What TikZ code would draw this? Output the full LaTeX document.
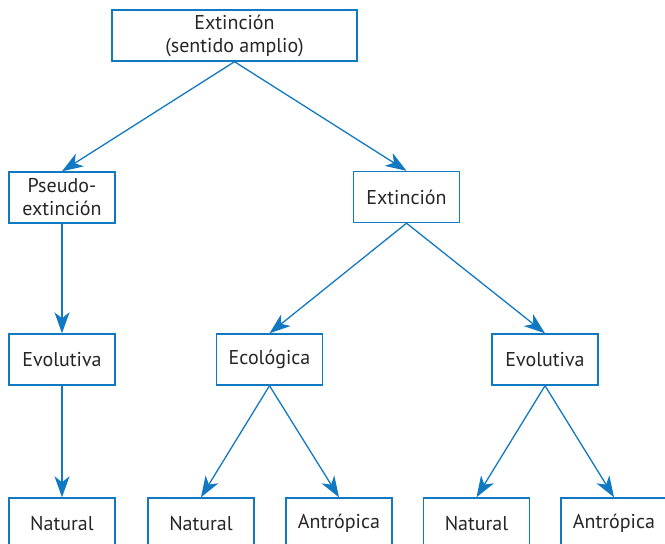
\documentclass[tikz,border=0pt]{standalone}
\usepackage{fontspec}
\setmainfont{PT Sans}
\usetikzlibrary{arrows.meta}
\definecolor{treeblue}{HTML}{1079C2}
\definecolor{treetext}{HTML}{262626}
\tikzset{
  BoxStyle/.style = { rectangle, draw = treeblue, line width = 1.4pt,
                      fill = white, text = treetext, align = center,
                      minimum width = 106pt, minimum height = 51pt,
                      inner sep = 0pt, font = \fontsize{20}{23}\selectfont },
  EdgeStyle/.style = { draw = treeblue, line width = 1.3pt,
                       -{Stealth[length=21pt, width=15pt, inset=6pt]} } }

\begin{document}
\begin{tikzpicture}[x=1pt, y=-1pt]
  \useasboundingbox (0,0) rectangle (665,544);
  \clip (0,0) rectangle (665,544);
  \node[BoxStyle, minimum width=245pt](top) at (234.5,35.5) {Extinción\\(sentido amplio)};
  \node[BoxStyle](pseudo) at (62,197.5) {Pseudo-\\extinción};
  \node[BoxStyle](ext) at (406.5,197) {Extinción};
  \node[BoxStyle](evoL) at (62,359.5) {Evolutiva};
  \node[BoxStyle](eco) at (269.5,359.5) {Ecológica};
  \node[BoxStyle](evoR) at (545,359.5) {Evolutiva};
  \node[BoxStyle](natA) at (62,523.5) {Natural};
  \node[BoxStyle](natB) at (201,523.5) {Natural};
  \node[BoxStyle](antA) at (339,523.5) {Antrópica};
  \node[BoxStyle](natC) at (476.5,523.5) {Natural};
  \node[BoxStyle](antB) at (614,523.5) {Antrópica};
  \draw[EdgeStyle] (top.south) -- (pseudo.north);
  \draw[EdgeStyle] (top.south) -- (ext.north);
  \draw[EdgeStyle] (pseudo.south) -- (evoL.north);
  \draw[EdgeStyle] (ext.south) -- (eco.north);
  \draw[EdgeStyle] (ext.south) -- (evoR.north);
  \draw[EdgeStyle] (evoL.south) -- (natA.north);
  \draw[EdgeStyle] (eco.south) -- (natB.north);
  \draw[EdgeStyle] (eco.south) -- (antA.north);
  \draw[EdgeStyle] (evoR.south) -- (natC.north);
  \draw[EdgeStyle] (evoR.south) -- (antB.north);
\end{tikzpicture}
\end{document}
